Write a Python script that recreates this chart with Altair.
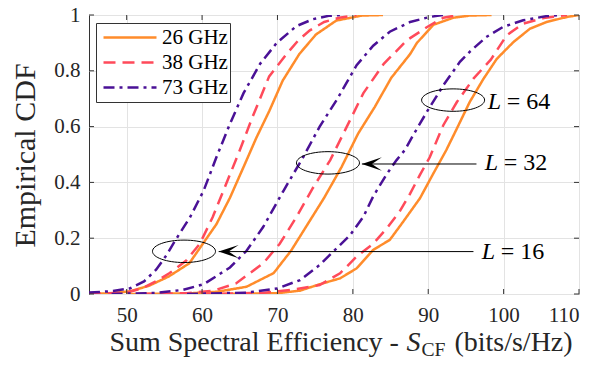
import altair as alt
import pandas as pd

FONT = "Liberation Serif"
TXT = "#262626"

# ---------------- data ----------------
freqs = ["26 GHz", "38 GHz", "73 GHz"]
colors = ["#FF8C2B", "#FF4A5A", "#4A1196"]
dashes = [[1, 0], [12, 7], [11, 5, 3, 5]]

x_ticks = [50, 60, 70, 80, 90, 100, 110]
y_ticks = [0, 0.2, 0.4, 0.6, 0.8, 1]

# L = 16
l16_26_x = [45, 48, 50.5, 53, 55.6, 58.3, 60.1, 61.9, 63.7, 65.5, 67.2, 68.9, 70.7, 72.9, 75.1, 77.8, 81.2, 84]
l16_26_y = [0.0, 0.003, 0.01, 0.03, 0.063, 0.11, 0.18, 0.25, 0.345, 0.455, 0.56, 0.655, 0.765, 0.86, 0.93, 0.98, 0.998, 1.0]
l16_38_x = [45, 50, 52, 54.2, 55.7, 57.9, 59.7, 61.4, 63.2, 65.0, 66.7, 68.9, 71.2, 72.8, 74.3, 76.2, 78.2, 80.5]
l16_38_y = [0.0, 0.005, 0.02, 0.05, 0.075, 0.12, 0.18, 0.275, 0.395, 0.515, 0.635, 0.78, 0.86, 0.91, 0.945, 0.975, 0.99, 1.0]
l16_73_x = [45, 48, 50.4, 52.3, 53.9, 55.3, 56.4, 58.4, 60.2, 61.9, 63.7, 65.5, 67.7, 69.9, 72.5, 74.7, 76.8, 78.5]
l16_73_y = [0.005, 0.01, 0.02, 0.045, 0.087, 0.14, 0.19, 0.275, 0.37, 0.49, 0.61, 0.72, 0.825, 0.90, 0.96, 0.985, 0.997, 1.0]

# L = 32
l32_26_x = [50, 58, 62, 65.9, 69.5, 71.8, 74, 76.2, 78.5, 80.7, 82.9, 85.1, 87.6, 88.5, 90.7, 93.3, 95.5, 98.4]
l32_26_y = [0.0, 0.002, 0.008, 0.026, 0.075, 0.155, 0.25, 0.345, 0.455, 0.575, 0.67, 0.775, 0.86, 0.9, 0.965, 0.99, 0.998, 1.0]
l32_38_x = [52, 58, 61.5, 64.5, 68.1, 70.3, 72.5, 74.7, 77.0, 79.2, 81.4, 84.1, 87.2, 89.8, 92, 94]
l32_38_y = [0.0, 0.003, 0.012, 0.038, 0.11, 0.18, 0.275, 0.38, 0.48, 0.60, 0.72, 0.825, 0.91, 0.956, 0.99, 1.0]
l32_73_x = [48, 54, 57.5, 60.2, 63.7, 65.9, 68.1, 70.8, 73.4, 75.6, 77.85, 80.5, 82.7, 84.9, 87.6, 90.2, 92]
l32_73_y = [0.0, 0.004, 0.015, 0.035, 0.095, 0.155, 0.24, 0.37, 0.49, 0.60, 0.695, 0.82, 0.89, 0.94, 0.975, 0.993, 1.0]

# L = 64
l64_26_x = [62, 70, 73, 75.6, 78.3, 80.5, 82.7, 84.9, 86.7, 88.9, 90.7, 92.4, 93.8, 95.5, 97.3, 99.1, 101.3, 103.5, 105.7, 108.4, 110]
l64_26_y = [0.0, 0.003, 0.012, 0.035, 0.056, 0.092, 0.158, 0.194, 0.26, 0.343, 0.433, 0.516, 0.593, 0.688, 0.77, 0.843, 0.903, 0.951, 0.975, 0.993, 1.0]
l64_38_x = [60, 68, 72, 75.6, 78.3, 80.5, 82.7, 84.5, 86.2, 87.6, 88.9, 90.2, 92, 93.8, 96, 98.3, 100.4, 102.6, 105.3, 108.4]
l64_38_y = [0.0, 0.004, 0.015, 0.032, 0.074, 0.134, 0.18, 0.235, 0.295, 0.36, 0.427, 0.49, 0.605, 0.688, 0.772, 0.84, 0.927, 0.969, 0.989, 1.0]
l64_73_x = [58, 66, 70, 73, 75.6, 77.4, 79.6, 81.4, 82.7, 84.5, 85.8, 86.9, 88, 89.8, 92, 94.2, 95.5, 97.7, 99.9, 102.6, 105.7, 107.5]
l64_73_y = [0.0, 0.005, 0.02, 0.05, 0.104, 0.152, 0.21, 0.277, 0.35, 0.43, 0.48, 0.516, 0.569, 0.652, 0.748, 0.832, 0.868, 0.921, 0.957, 0.981, 0.996, 1.0]

# annotations (data coordinates)
ellipse_x = [57.6, 76.7, 93.3]
ellipse_y = [0.153, 0.470, 0.695]
arrow_x_start = [96.0, 96.4]
arrow_x_end = [62.2, 81.2]
arrow_y = [0.152, 0.466]
label_x = [97.1, 97.5, 97.9]
label_y = [0.152, 0.468, 0.689]
label_text = ["= 16", "= 32", "= 64"]

# ---------------- tables ----------------
series = [
    ("16", "26 GHz", l16_26_x, l16_26_y), ("16", "38 GHz", l16_38_x, l16_38_y), ("16", "73 GHz", l16_73_x, l16_73_y),
    ("32", "26 GHz", l32_26_x, l32_26_y), ("32", "38 GHz", l32_38_x, l32_38_y), ("32", "73 GHz", l32_73_x, l32_73_y),
    ("64", "26 GHz", l64_26_x, l64_26_y), ("64", "38 GHz", l64_38_x, l64_38_y), ("64", "73 GHz", l64_73_x, l64_73_y),
]
rows = []
for L, f, xs, ys in series:
    for i, (a, b) in enumerate(zip(xs, ys)):
        rows.append({"L": L, "freq": f, "x": a, "y": b, "i": i})
df = pd.DataFrame(rows)

ell_df = pd.DataFrame({"x": ellipse_x, "y": ellipse_y})
arr_df = pd.DataFrame({"x": arrow_x_start, "x2": arrow_x_end, "y": arrow_y})
lab_df = pd.DataFrame({"x": label_x, "y": label_y, "t": label_text})
xt_df = pd.DataFrame({"x": x_ticks})
yt_df = pd.DataFrame({"y": y_ticks})
one = pd.DataFrame({"k": [0]})

W, H = 490, 279
xscale = alt.Scale(domain=[45, 110], nice=False, zero=False)
yscale = alt.Scale(domain=[0, 1], nice=False, zero=False)

x_axis = alt.Axis(
    values=x_ticks, title=None, grid=True, ticks=False, domain=False,
    labelFont=FONT, labelFontSize=21, labelPadding=10, labelColor=TXT,
    gridColor="#e3e3e3", gridWidth=1)
y_axis = alt.Axis(
    values=y_ticks, format="~g", title=None, grid=True, ticks=False, domain=False,
    labelFont=FONT, labelFontSize=21, labelPadding=9, labelColor=TXT,
    gridColor="#e3e3e3", gridWidth=1)

X = alt.X("x:Q", scale=xscale, axis=x_axis)
Y = alt.Y("y:Q", scale=yscale, axis=y_axis)

legend = alt.Legend(
    title=None, orient="none", legendX=7, legendY=8,
    symbolType="stroke", symbolSize=2809, symbolStrokeWidth=2.5,
    labelFont=FONT, labelFontSize=21, labelColor="black", labelOffset=4,
    clipHeight=25, rowPadding=0, padding=2, symbolOffset=4,
    strokeColor="#333333", fillColor="white", cornerRadius=0,
)

lines = alt.Chart(df).mark_line(strokeWidth=2.5, clip=True).encode(
    x=X, y=Y,
    color=alt.Color("freq:N", scale=alt.Scale(domain=freqs, range=colors), legend=legend),
    strokeDash=alt.StrokeDash("freq:N", scale=alt.Scale(domain=freqs, range=dashes), legend=legend),
    detail="L:N",
    order="i:Q",
)

tick_style = dict(color="#333333", strokeWidth=1)
xt_bot = alt.Chart(xt_df).mark_rule(**tick_style).encode(x=X, y=alt.value(H), y2=alt.value(H - 5))
xt_top = alt.Chart(xt_df).mark_rule(**tick_style).encode(x=X, y=alt.value(0), y2=alt.value(5))
yt_left = alt.Chart(yt_df).mark_rule(**tick_style).encode(y=Y, x=alt.value(0), x2=alt.value(5))
yt_right = alt.Chart(yt_df).mark_rule(**tick_style).encode(y=Y, x=alt.value(W), x2=alt.value(W - 5))

ell_path = ("M-1,0C-1,-0.197,-0.552,-0.356,0,-0.356C0.552,-0.356,1,-0.197,1,0"
            "C1,0.197,0.552,0.356,0,0.356C-0.552,0.356,-1,0.197,-1,0Z")
ellipses = alt.Chart(ell_df).mark_point(
    shape=ell_path, size=3969, filled=False, stroke="black", strokeWidth=1, opacity=1
).encode(x=X, y=Y)

arrows = alt.Chart(arr_df).mark_rule(color="black", strokeWidth=1).encode(x=X, x2="x2:Q", y=Y)
head_path = "M0,0L4,-1.34L2,0L4,1.34Z"
heads = alt.Chart(arr_df).mark_point(
    shape=head_path, size=100, filled=True, color="black", opacity=1, strokeWidth=0
).encode(x=alt.X("x2:Q", scale=xscale, axis=x_axis), y=Y)

lab_L = alt.Chart(lab_df).mark_text(
    text="L", font=FONT, fontSize=24, fontStyle="italic", align="left", baseline="middle", color="black"
).encode(x=X, y=Y)
lab_rest = alt.Chart(lab_df).mark_text(
    font=FONT, fontSize=24, align="left", baseline="middle", dx=19, color="black"
).encode(x=X, y=Y, text="t:N")

# axis titles composed as text
TFS = 28
w1 = 10.609 * TFS
wS = 0.5 * TFS
wCF = 1.223 * 0.7 * TFS
wsp = 0.25 * TFS
w4 = 4.222 * TFS
total = w1 + wS + 1 + wCF + wsp + 2 + w4
x0 = 252 - total / 2
ybase = 335.5
t1 = alt.Chart(one).mark_text(text="Sum Spectral Efficiency -", font=FONT, fontSize=TFS, align="left",
                              baseline="alphabetic", color=TXT).encode(x=alt.value(x0), y=alt.value(ybase))
t2 = alt.Chart(one).mark_text(text="S", font=FONT, fontSize=TFS, fontStyle="italic", align="left",
                              baseline="alphabetic", color=TXT).encode(x=alt.value(x0 + w1), y=alt.value(ybase))
t3 = alt.Chart(one).mark_text(text="CF", font=FONT, fontSize=0.7 * TFS, align="left",
                              baseline="alphabetic", color=TXT).encode(x=alt.value(x0 + w1 + wS + 1), y=alt.value(ybase + 5))
t4 = alt.Chart(one).mark_text(text="(bits/s/Hz)", font=FONT, fontSize=TFS, align="left",
                              baseline="alphabetic", color=TXT).encode(x=alt.value(x0 + w1 + wS + wCF + wsp + 3), y=alt.value(ybase))
ty = alt.Chart(one).mark_text(text="Empirical CDF", font=FONT, fontSize=30, angle=270, align="center",
                              baseline="middle", color=TXT).encode(x=alt.value(-63), y=alt.value(H / 2 + 1))

chart = alt.layer(
    lines, xt_bot, xt_top, yt_left, yt_right, ellipses, arrows, heads, lab_L, lab_rest, t1, t2, t3, t4, ty
).properties(
    width=W, height=H,
    autosize=alt.AutoSizeParams(type="none"),
    padding={"left": 81, "top": 7, "right": 22, "bottom": 65},
    background="white",
).configure_view(stroke="#333333", strokeWidth=1)

chart.save("out.html", embed_options={"renderer": "svg", "actions": False})
